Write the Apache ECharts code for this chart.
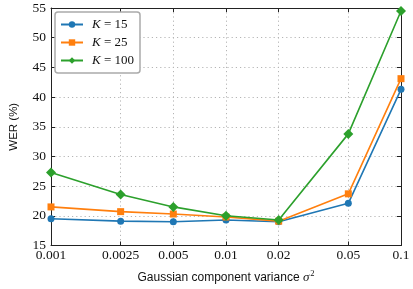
<!DOCTYPE html>
<html><head><meta charset="utf-8">
<script src="https://cdn.jsdelivr.net/npm/echarts@6/dist/echarts.min.js"></script>
<style>html,body{margin:0;padding:0;background:#fff}#c{width:413px;height:289px}</style>
</head><body><div id="c"></div>
<script>
const variances = [0.001, 0.0025, 0.005, 0.01, 0.02, 0.05, 0.1];
const tickLabels = ['0.001', '0.0025', '0.005', '0.01', '0.02', '0.05', '0.1'];
const werK15 = [19.5, 19.1, 19.0, 19.3, 19.0, 22.1, 41.3];
const werK25 = [21.5, 20.7, 20.3, 19.8, 19.1, 23.7, 43.1];
const werK100 = [27.3, 23.6, 21.5, 20.0, 19.3, 33.8, 54.5];
const seriesNames = ['15', '25', '100'];

const colors = ['#1f77b4', '#ff7f0e', '#2ca02c'];
const symbols = ['circle', 'rect', 'diamond'];
const symSizes = [7, 7, 10];
const all = [werK15, werK25, werK100];
const serif = '"Liberation Serif", "Times New Roman", serif';
const sans = '"Liberation Sans", Arial, sans-serif';

const fmtX = v => {
  for (let i = 0; i < variances.length; i++) if (Math.abs(v - variances[i]) / variances[i] < 1e-6) return tickLabels[i];
  return '';
};
const gridDot = {show: true, lineStyle: {color: '#b5b5b5', type: [1.2, 3], width: 1}};
const axisCol = '#222';

const chart = echarts.init(document.getElementById('c'), null, {renderer: 'canvas'});
chart.setOption({
  animation: false,
  grid: {left: 50, right: 12, top: 8, bottom: 35, containLabel: false},
  legend: {
    left: 55, top: 12, orient: 'vertical',
    backgroundColor: '#fff', borderColor: '#aaa', borderWidth: 1.5, borderRadius: 3,
    padding: [5, 6, 5, 5], itemGap: 3, itemWidth: 22, itemHeight: 8,
    data: seriesNames.map(n => 'K = ' + n),
    formatter: name => '{i|K} = ' + name.slice(4),
    textStyle: {fontFamily: serif, fontSize: 13, color: '#111', padding: [0, 0, 0, 4], lineHeight: 15,
      rich: {i: {fontFamily: serif, fontStyle: 'italic', fontSize: 13, color: '#111', lineHeight: 15}}}
  },
  xAxis: [{
    type: 'log', logBase: 10, min: 0.001, max: 0.1,
    name: 'Gaussian component variance {s|σ}{p|2}', nameLocation: 'middle', nameGap: 24,
    nameTextStyle: {fontFamily: sans, fontSize: 12, color: '#111',
      rich: {s: {fontFamily: serif, fontStyle: 'italic', fontSize: 13, color: '#111'},
             p: {fontFamily: serif, fontSize: 8.5, color: '#111', padding: [0, 0, 7, 1]}}},
    axisLine: {show: true, lineStyle: {color: axisCol, width: 1}},
    axisTick: {show: true, inside: true, length: 4, customValues: variances, lineStyle: {color: axisCol}},
    minorTick: {show: false},
    axisLabel: {customValues: variances, formatter: fmtX, fontFamily: serif, fontSize: 13.5, color: '#111', margin: 3},
    splitLine: gridDot
  }, {
    type: 'log', logBase: 10, min: 0.001, max: 0.1, position: 'top',
    axisLine: {show: true, lineStyle: {color: axisCol, width: 1}},
    axisTick: {show: true, inside: true, length: 4, customValues: variances, lineStyle: {color: axisCol}},
    axisLabel: {show: false}, splitLine: {show: false}
  }],
  yAxis: [{
    type: 'value', min: 15, max: 55, interval: 5,
    name: 'WER (%)', nameLocation: 'middle', nameGap: 31,
    nameTextStyle: {fontFamily: sans, fontSize: 11.5, color: '#111'},
    axisLine: {show: true, lineStyle: {color: axisCol, width: 1}},
    axisTick: {show: true, inside: true, length: 4, lineStyle: {color: axisCol}},
    axisLabel: {fontFamily: serif, fontSize: 13.5, color: '#111', margin: 5},
    splitLine: gridDot
  }, {
    type: 'value', min: 15, max: 55, interval: 5, position: 'right',
    axisLine: {show: true, lineStyle: {color: axisCol, width: 1}},
    axisTick: {show: true, inside: true, length: 4, lineStyle: {color: axisCol}},
    axisLabel: {show: false}, splitLine: {show: false}
  }],
  series: all.map((vals, k) => ({
    name: 'K = ' + seriesNames[k], type: 'line',
    data: variances.map((x, i) => [x, vals[i]]),
    symbol: symbols[k], symbolSize: symSizes[k],
    lineStyle: {color: colors[k], width: 1.6},
    itemStyle: {color: colors[k]},
    clip: false, z: 3 + k
  }))
});
</script></body></html>
